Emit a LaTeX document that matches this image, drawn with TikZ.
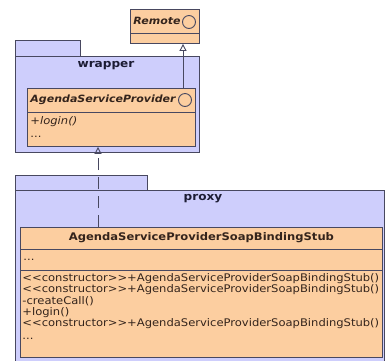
\documentclass[tikz,border=0pt]{standalone}
\usepackage{fontspec}
\setmainfont{DejaVu Sans}[FakeStretch=1.1]
\usepackage{xcolor}
\usepackage{tikz}
\usetikzlibrary{arrows.meta,positioning}
\definecolor{umlline}{RGB}{72,72,96}
\definecolor{pkgfill}{RGB}{206,206,252}
\definecolor{clsfill}{RGB}{252,206,160}
\definecolor{umltext}{RGB}{52,36,28}
\definecolor{pkgtext}{RGB}{28,28,52}
\newcommand{\stereo}[1]{<{}<#1>{}>}
\tikzset{
  pkgbox/.style={draw=umlline,fill=pkgfill,anchor=north west,inner sep=0pt},
  clsbox/.style={draw=umlline,fill=clsfill,anchor=north west,inner sep=0pt},
  lolli/.style={circle,draw=umlline,minimum size=13pt,inner sep=0pt},
  pkgname/.style={inner sep=0pt,text=pkgtext,font=\fontsize{11}{13}\selectfont\bfseries},
  member/.style={anchor=west,inner sep=0pt,text=umltext,font=\fontsize{10.5}{11.3}\selectfont},
  opslist/.style={anchor=north west,inner sep=0pt,align=left,text=umltext,
    font=\fontsize{10.5}{11.3}\selectfont},
  generalize/.style={draw=umlline,-{Triangle[open,length=7pt,width=7pt]}},
  realize/.style={generalize,dash pattern=on 12pt off 7pt}
}
\begin{document}
\begin{tikzpicture}[x=1pt,y=-1pt,line width=0.9pt]
  \clip (0,0) rectangle (385,360);
  \fill[white] (0,0) rectangle (385,360);

  % interface Remote
  \node[clsbox,minimum width=69pt,minimum height=34pt] (remote) at (130,9) {};
  \draw[umlline] (remote.west |- 0,33) -- (remote.east |- 0,33);
  \node[member,font=\fontsize{10}{12}\selectfont\bfseries\itshape] (remotename) at (133,21) {Remote};
  \node[lolli] (remoteicon) at (189,22) {};

  % package wrapper
  \node[pkgbox,minimum width=65pt,minimum height=16pt] (wraptab) at (15,40) {};
  \node[pkgbox,minimum width=184pt,minimum height=96pt] (wrapper) at (15,56) {};
  \node[pkgname] (wraplabel) at (106,66) {wrapper};

  \node[clsbox,minimum width=168pt,minimum height=58pt] (asp) at (27,88) {};
  \draw[umlline] (asp.west |- 0,112) -- (asp.east |- 0,112);
  \node[member,font=\fontsize{10}{12}\selectfont\bfseries\itshape] (aspname) at (30,100) {AgendaServiceProvider};
  \node[lolli] (aspicon) at (185,100) {};
  \node[member,font=\fontsize{10.5}{12}\selectfont\itshape] (asplogin) at (30,122) {+login()};
  \node[member] (aspmore) at (30,137) {...};

  % package proxy
  \node[pkgbox,minimum width=132pt,minimum height=15pt] (proxytab) at (15,175) {};
  \node[pkgbox,minimum width=369pt,minimum height=180pt] (proxy) at (15,190) {};
  \node[pkgname] (proxylabel) at (203,199) {proxy};

  \node[clsbox,minimum width=362pt,minimum height=130pt] (stub) at (20,227) {};
  \draw[umlline] (stub.west |- 0,249) -- (stub.east |- 0,249);
  \draw[umlline] (stub.west |- 0,270) -- (stub.east |- 0,270);
  \node[member,anchor=center,font=\fontsize{10.5}{12}\selectfont\bfseries] (stubname) at (stub.north |- 0,238) {AgendaServiceProviderSoapBindingStub};
  \node[member] (stubattr) at (23,260) {...};
  \node[opslist] (stubops) at (22,273) {%
    \stereo{constructor}+AgendaServiceProviderSoapBindingStub()\\
    \stereo{constructor}+AgendaServiceProviderSoapBindingStub()\\
    -createCall()\\
    +login()\\
    \stereo{constructor}+AgendaServiceProviderSoapBindingStub()\\[2pt]
    ...};

  \draw[generalize] (asp.north -| 183,0) -- (remote.south -| 183,0);
  \draw[realize] (stub.north -| 98,0) -- (asp.south -| 98,0);
\end{tikzpicture}
\end{document}
